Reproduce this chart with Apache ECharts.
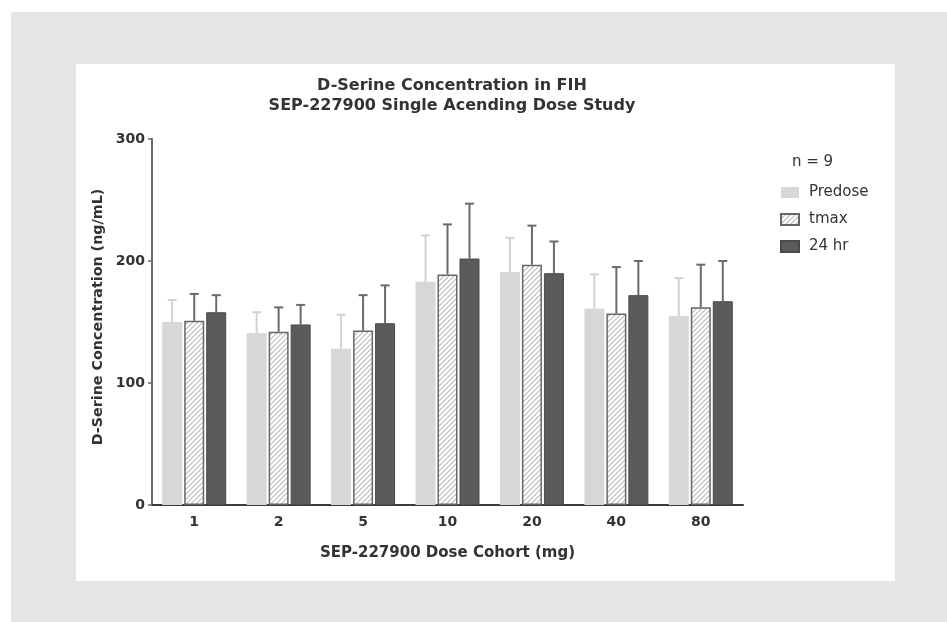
<!DOCTYPE html>
<html>
<head>
<meta charset="utf-8">
<script src="https://cdn.jsdelivr.net/npm/echarts@6/dist/echarts.min.js"></script>
<style>
html,body{margin:0;padding:0;background:#ffffff;}
#chart{width:947px;height:622px;}
</style>
</head>
<body>
<div id="chart"></div>
<script>
// ---- data ----
const titleLines = ['D-Serine Concentration in FIH', 'SEP-227900 Single Acending Dose Study'];
const categories = ['1', '2', '5', '10', '20', '40', '80'];
const seriesNames = ['Predose', 'tmax', '24 hr'];
const predoseMean = [150, 141, 128, 183, 191, 161, 155];
const predoseSD   = [18, 17, 28, 38, 28, 28, 31];
const tmaxMean    = [151, 142, 143, 189, 197, 157, 162];
const tmaxSD      = [22, 20, 29, 41, 32, 38, 35];
const hr24Mean    = [158, 148, 149, 202, 190, 172, 167];
const hr24SD      = [14, 16, 31, 45, 26, 28, 33];
const yTicks = [0, 100, 200, 300];
const yAxisTitle = 'D-Serine Concentration (ng/mL)';
const xAxisTitle = 'SEP-227900 Dose Cohort (mg)';
const nLabel = 'n = 9';

// ---- hatch pattern for tmax ----
function hatch() {
  const c = document.createElement('canvas');
  const s = 5;
  c.width = s; c.height = s;
  const g = c.getContext('2d');
  g.fillStyle = '#ffffff';
  g.fillRect(0, 0, s, s);
  g.strokeStyle = '#bcbcbc';
  g.lineWidth = 1.2;
  g.beginPath();
  g.moveTo(-1, s + 1); g.lineTo(s + 1, -1);
  g.moveTo(-1, 1); g.lineTo(1, -1);
  g.moveTo(s - 1, s + 1); g.lineTo(s + 1, s - 1);
  g.stroke();
  return c;
}

const FONT = 'DejaVu Sans';
const BAR_W = 20, BAR_GAP = 2;
const means = [predoseMean, tmaxMean, hr24Mean];
const sds = [predoseSD, tmaxSD, hr24SD];
const errColors = ['#d2d2d2', '#6a6a6a', '#6a6a6a'];

function errSeries(k) {
  const data = categories.map((c, i) => [i, means[k][i], sds[k][i]]);
  const offset = (k - 1) * (BAR_W + BAR_GAP);
  return {
    type: 'custom',
    name: 'err' + k,
    z: 1,
    silent: true,
    encode: { x: 0, y: 1 },
    data: data,
    renderItem: function (params, api) {
      const base = api.coord([api.value(0), api.value(1)]);
      const top = api.coord([api.value(0), api.value(1) + api.value(2)]);
      const x = base[0] + offset;
      const st = { stroke: errColors[k], lineWidth: 2 };
      return {
        type: 'group',
        children: [
          { type: 'line', shape: { x1: x, y1: base[1], x2: x, y2: top[1] }, style: st },
          { type: 'line', shape: { x1: x - 4.5, y1: top[1], x2: x + 4.5, y2: top[1] }, style: st }
        ]
      };
    }
  };
}

const chart = echarts.init(document.getElementById('chart'), null, { renderer: 'canvas' });
const option = {
  backgroundColor: '#ffffff',
  animation: false,
  graphic: [
    { type: 'rect', z: -10, silent: true, shape: { x: 11, y: 12, width: 936, height: 610 }, style: { fill: '#e4e5e7' } },
    { type: 'rect', z: -9, silent: true, shape: { x: 76, y: 64, width: 819, height: 517 }, style: { fill: '#ffffff' } },
    { type: 'text', x: 792, y: 162, style: { text: nLabel, font: '15px "DejaVu Sans"', fill: '#333333', verticalAlign: 'middle', align: 'left' } }
  ],
  title: {
    text: titleLines.join('\n'),
    left: 447,
    top: 71,
    textAlign: 'center',
    textStyle: { fontFamily: FONT, fontWeight: 'bold', fontSize: 16, lineHeight: 20, color: '#333333' }
  },
  legend: {
    data: seriesNames,
    orient: 'vertical',
    left: 775,
    top: 180,
    itemWidth: 18,
    itemHeight: 11,
    itemGap: 12,
    icon: 'rect',
    textStyle: { fontFamily: FONT, fontSize: 15, color: '#333333', padding: [0, 0, 0, 5] },
    selectedMode: false
  },
  grid: { left: 152, right: 204, top: 139, bottom: 117, containLabel: false },
  xAxis: {
    type: 'category',
    data: categories,
    name: xAxisTitle,
    nameLocation: 'middle',
    nameGap: 41,
    nameTextStyle: { fontFamily: FONT, fontWeight: 'bold', fontSize: 15, color: '#333333' },
    axisLine: { lineStyle: { color: '#3c3c3c', width: 2 } },
    axisTick: { alignWithLabel: true, length: 4, lineStyle: { color: '#3c3c3c', width: 1.5 } },
    axisLabel: { fontFamily: FONT, fontWeight: 'bold', fontSize: 14, color: '#333333', margin: 10 }
  },
  yAxis: {
    type: 'value',
    min: yTicks[0],
    max: yTicks[yTicks.length - 1],
    interval: 100,
    name: yAxisTitle,
    nameLocation: 'middle',
    nameGap: 39,
    nameTextStyle: { fontFamily: FONT, fontWeight: 'bold', fontSize: 14.3, color: '#333333', padding: [0, 0, 0, 10] },
    axisLine: { show: true, lineStyle: { color: '#6a6a6a', width: 2 } },
    axisTick: { show: true, length: 4, lineStyle: { color: '#6a6a6a', width: 1.5 } },
    splitLine: { show: false },
    axisLabel: { fontFamily: FONT, fontWeight: 'bold', fontSize: 14, color: '#333333', margin: 7 }
  },
  series: [
    {
      type: 'bar', name: seriesNames[0], data: predoseMean, z: 2,
      barWidth: BAR_W, barGap: '10%',
      itemStyle: { color: '#d7d7d7' }
    },
    {
      type: 'bar', name: seriesNames[1], data: tmaxMean, z: 2,
      barWidth: BAR_W, barGap: '10%',
      itemStyle: { color: { image: hatch(), repeat: 'repeat' }, borderColor: '#666666', borderWidth: 1.5 }
    },
    {
      type: 'bar', name: seriesNames[2], data: hr24Mean, z: 2,
      barWidth: BAR_W, barGap: '10%',
      itemStyle: { color: '#5b5b5b', borderColor: '#4a4a4a', borderWidth: 1 }
    },
    errSeries(0), errSeries(1), errSeries(2)
  ]
};
chart.setOption(option);
</script>
</body>
</html>
